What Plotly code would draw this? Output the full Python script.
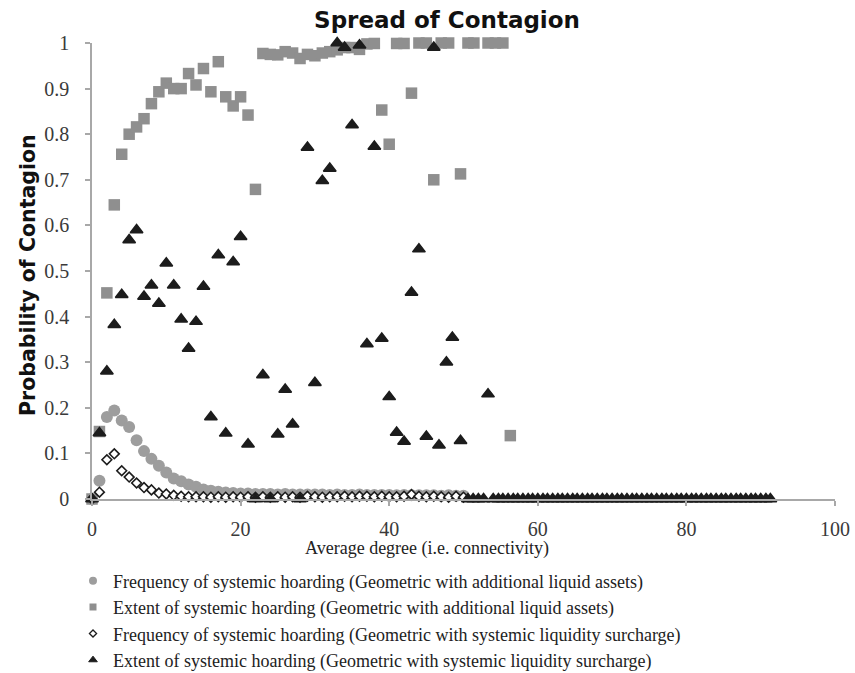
import plotly.graph_objects as go

# ---- data ----
freq_add_x = [0, 1, 2, 3, 4, 5, 6, 7, 8, 9, 10, 11, 12, 13, 14, 15, 16, 17, 18, 19, 20,
              21, 22, 23, 24, 25, 26, 27, 28, 29, 30, 31, 32, 33, 34, 35, 36, 37, 38, 39, 40,
              41, 42, 43, 44, 45, 46, 47, 48, 49, 50]
freq_add_y = [0.0, 0.04, 0.18, 0.194, 0.172, 0.158, 0.129, 0.105, 0.088, 0.073, 0.058,
              0.045, 0.039, 0.032, 0.027, 0.021, 0.018, 0.016, 0.014, 0.013, 0.012,
              0.012, 0.011, 0.011, 0.011, 0.010, 0.011, 0.010, 0.010, 0.010, 0.010,
              0.010, 0.009, 0.010, 0.009, 0.009, 0.010, 0.009, 0.009, 0.009, 0.009,
              0.008, 0.009, 0.008, 0.008, 0.008, 0.008, 0.007, 0.008, 0.007, 0.007]

ext_add_x = [0, 1, 2, 3, 4, 5, 6, 7, 8, 9, 10, 11, 12, 13, 14, 15, 16, 17, 18, 19, 20,
             21, 22, 23, 24, 25, 26, 27, 28, 29, 30, 31, 32, 33, 34, 35, 36, 37, 38, 39, 40,
             41, 42, 43, 44, 45, 46, 47, 48, 49.6, 50.6, 51.4, 53.3, 54.3, 55.3, 56.3]
ext_add_y = [0.0, 0.148, 0.452, 0.645, 0.756, 0.80, 0.816, 0.834, 0.867, 0.893, 0.912,
             0.90, 0.90, 0.933, 0.908, 0.944, 0.893, 0.959, 0.882, 0.862, 0.882,
             0.842, 0.679, 0.977, 0.975, 0.974, 0.981, 0.978, 0.966, 0.975, 0.972,
             0.978, 0.981, 0.985, 0.99, 0.99, 0.986, 0.998, 0.999, 0.853, 0.778,
             0.999, 0.999, 0.89, 1.0, 1.0, 0.70, 1.0, 1.0, 0.713, 1.0, 1.0, 1.0, 1.0, 1.0, 0.139]

freq_sur_x = freq_add_x
freq_sur_y = [0.0, 0.015, 0.086, 0.099, 0.062, 0.048, 0.035, 0.025, 0.020, 0.013, 0.011,
              0.008, 0.006, 0.005, 0.005, 0.005, 0.004, 0.005, 0.004, 0.005, 0.004,
              0.005, 0.004, 0.005, 0.004, 0.005, 0.004, 0.005, 0.004, 0.006, 0.005,
              0.004, 0.005, 0.005, 0.006, 0.005, 0.006, 0.006, 0.005, 0.006, 0.005,
              0.005, 0.006, 0.010, 0.006, 0.005, 0.006, 0.005, 0.004, 0.006, 0.004]

ext_sur_x = [0, 1, 2, 3, 4, 5, 6, 7, 8, 9, 10, 11, 12, 13, 14, 15, 16, 17, 18, 19, 20,
             21, 22, 23, 24, 25, 26, 27, 28, 29, 30, 31, 32, 33, 34, 35, 36, 37, 38, 39, 40,
             41, 42, 43, 44, 45, 46, 46.7, 47.7, 48.5, 49.6,
             50.6, 51.3, 52.0, 52.7, 53.3, 54.0, 54.7, 55.3, 56.0, 56.7, 57.3, 58.0, 58.7,
             59.3, 60.0, 60.7, 61.3, 62.0, 62.7, 63.3, 64.0, 64.7, 65.3, 66.0, 66.7, 67.3,
             68.0, 68.7, 69.3, 70.0, 70.7, 71.3, 72.0, 72.7, 73.3, 74.0, 74.7, 75.3, 76.0,
             76.7, 77.3, 78.0, 78.7, 79.3, 80.0, 80.7, 81.3, 82.0, 82.7, 83.3, 84.0, 84.7,
             85.3, 86.0, 86.7, 87.3, 88.0, 88.7, 89.3, 90.0, 90.7, 91.3]
ext_sur_y = [0.0, 0.145, 0.28, 0.382, 0.448, 0.568, 0.59, 0.444, 0.469, 0.429, 0.517,
             0.469, 0.394, 0.33, 0.389, 0.466, 0.18, 0.535, 0.144, 0.52, 0.575,
             0.12, 0.0, 0.272, 0.0, 0.142, 0.24, 0.164, 0.0, 0.771, 0.255,
             0.698, 0.725, 1.0, 0.99, 0.82, 0.995, 0.34, 0.773, 0.352, 0.224,
             0.146, 0.126, 0.453, 0.548, 0.137, 0.99, 0.118, 0.30, 0.354, 0.128,
             0.0, 0.0, 0.0, 0.0, 0.23, 0.0, 0.0, 0.0, 0.0, 0.0, 0.0, 0.0, 0.0,
             0.0, 0.0, 0.0, 0.0, 0.0, 0.0, 0.0, 0.0, 0.0, 0.0, 0.0, 0.0, 0.0,
             0.0, 0.0, 0.0, 0.0, 0.0, 0.0, 0.0, 0.0, 0.0, 0.0, 0.0, 0.0, 0.0,
             0.0, 0.0, 0.0, 0.0, 0.0, 0.0, 0.0, 0.0, 0.0, 0.0, 0.0, 0.0, 0.0,
             0.0, 0.0, 0.0, 0.0, 0.0, 0.0, 0.0, 0.0, 0.0, 0.0, 0.0]

names = [
    "Frequency of systemic hoarding (Geometric with additional liquid assets)",
    "Extent of systemic hoarding (Geometric with additional liquid assets)",
    "Frequency of systemic hoarding (Geometric with systemic liquidity surcharge)",
    "Extent of systemic hoarding (Geometric with systemic liquidity surcharge)",
]
x_ticks = [0, 20, 40, 60, 80, 100]
y_ticks = [0, 0.1, 0.2, 0.3, 0.4, 0.5, 0.6, 0.7, 0.8, 0.9, 1]
y_tick_text = ["0", "0.1", "0.2", "0.3", "0.4", "0.5", "0.6", "0.7", "0.8", "0.9", "1"]

GRAY_C = "#9d9d9d"
GRAY_S = "#8f8f8f"
BLACK = "#1c1c1c"

styles = [
    dict(symbol="circle", size=12, color=GRAY_C, line=dict(width=0)),
    dict(symbol="square", size=11.5, color=GRAY_S, line=dict(width=0)),
    dict(symbol="diamond", size=7.5, color="white", line=dict(width=1.6, color=BLACK)),
    dict(symbol="triangle-up", size=11, color=BLACK, line=dict(width=1.5, color=BLACK)),
]
legend_styles = [
    dict(symbol="circle", size=8, color=GRAY_C, line=dict(width=0)),
    dict(symbol="square", size=7, color=GRAY_S, line=dict(width=0)),
    dict(symbol="diamond", size=5.5, color="white", line=dict(width=1.3, color=BLACK)),
    dict(symbol="triangle-up", size=7.5, color=BLACK, line=dict(width=1, color=BLACK)),
]
series = [(freq_add_x, freq_add_y), (ext_add_x, ext_add_y),
          (freq_sur_x, freq_sur_y), (ext_sur_x, ext_sur_y)]

fig = go.Figure()
for (xs, ys), st, nm in zip(series, styles, names):
    fig.add_trace(go.Scatter(x=xs, y=ys, mode="markers", marker=st, name=nm,
                             showlegend=False, cliponaxis=False, hoverinfo="x+y"))
# legend entries with small symbols
for st, nm in zip(legend_styles, names):
    fig.add_trace(go.Scatter(x=[None], y=[None], mode="markers", marker=st, name=nm,
                             showlegend=True))

fig.update_layout(
    width=855, height=673,
    margin=dict(l=92, r=20, t=43, b=174, autoexpand=False),
    paper_bgcolor="white", plot_bgcolor="white",
    title=dict(text="<b>Spread of Contagion</b>", x=447/855, xanchor="center",
               xref="container", y=1-20/673, yanchor="middle",
               font=dict(family="DejaVu Sans", size=23, color="#111")),
    showlegend=True,
    legend=dict(x=(73-92)/743, xanchor="left", y=(499-562.5)/456, yanchor="top",
                font=dict(family="Liberation Serif", size=18, color="#222"),
                bgcolor="rgba(0,0,0,0)", itemsizing="trace", tracegroupgap=0),
    xaxis=dict(range=[0, 100], tickvals=x_ticks, showgrid=False, zeroline=False,
               showline=True, linecolor="#a8a8a8", linewidth=1.5, automargin=False,
               ticks="outside", ticklen=5, tickcolor="#a8a8a8", tickwidth=1.5,
               tickfont=dict(family="Liberation Serif", size=20, color="#3a3a3a"),
               ticklabelstandoff=6),
    yaxis=dict(range=[0, 1], tickvals=y_ticks, ticktext=y_tick_text, showgrid=False,
               zeroline=False, showline=True, linecolor="#a8a8a8", linewidth=1.5,
               automargin=False,
               ticks="outside", ticklen=5, tickcolor="#a8a8a8", tickwidth=1.5,
               tickfont=dict(family="Liberation Serif", size=20, color="#3a3a3a"),
               ticklabelstandoff=12),
    annotations=[
        dict(text="Average degree (i.e. connectivity)", xref="paper", yref="paper",
             x=(427-92)/743, y=(499-548)/456, xanchor="center", yanchor="middle",
             showarrow=False, font=dict(family="Liberation Serif", size=18, color="#222")),
        dict(text="<b>Probability of Contagion</b>", xref="paper", yref="paper",
             x=(28-92)/743, y=(499-275)/456, xanchor="center", yanchor="middle",
             textangle=-90, showarrow=False,
             font=dict(family="DejaVu Sans", size=20.5, color="#111")),
    ],
)

fig.write_html("out.html")
